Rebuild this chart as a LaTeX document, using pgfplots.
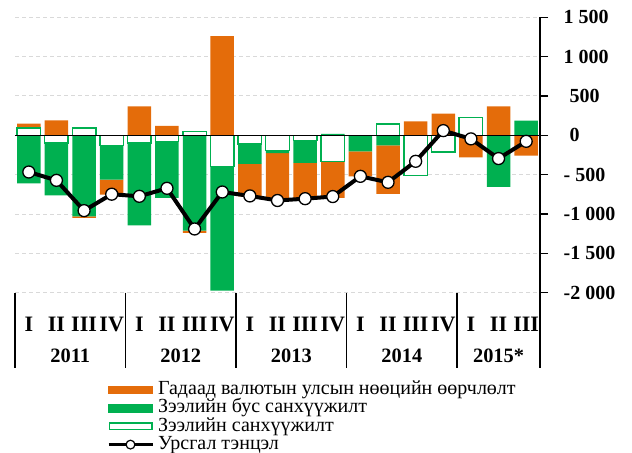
\documentclass[border=0pt]{standalone}
\usepackage{fontspec}
\setmainfont{Liberation Serif}
\usepackage{pgfplots}
\usepackage{pgfplotstable}
\pgfplotsset{compat=1.18}

\definecolor{orangeC}{RGB}{228,108,10}
\definecolor{greenC}{RGB}{0,176,80}
\definecolor{gridC}{RGB}{217,217,217}

% positive (p) and negative (n) parts, stacked separately as in the original
% H = Зээлийн санхүүжилт, G = Зээлийн бус санхүүжилт, O = Гадаад валютын улсын нөөцийн өөрчлөлт
\pgfplotstableread{
x  Hp   Gp   Op    Hn    Gn     On
0  93   0    55    0     -610   0
1  0    0    190   -97   -665   0
2  93   0    0     0     -1029  -21
3  0    0    0     -127  -436   -191
4  0    0    369   -97   -1047  0
5  0    0    119   -80   -716   0
6  51   0    0     0     -1211  -30
7  0    0    1262  -394  -1580  0
8  0    0    0     -110  -254   -411
9  0    0    0     -195  -30    -595
10 0    0    0     -67   -284   -448
11 0    20   0     -330  0      -465
12 0    0    0     0     -203   -318
13 145  0    0     0     -127   -618
14 0    0    178   -512  0      0
15 0    0    276   -211  0      0
16 229  0    0     0     0      -280
17 0    0    369   0     -656   0
18 0    187  0     0     0      -258
}\bars

% Урсгал тэнцэл
\pgfplotstableread{
x  L
0  -466
1  -572
2  -957
3  -748
4  -775
5  -673
6  -1190
7  -720
8  -770
9  -828
10 -805
11 -778
12 -521
13 -597
14 -330
15 60
16 -45
17 -295
18 -76
}\balance

\pgfplotsset{
  base/.style={
    width=262.5pt, height=137.7pt, scale only axis,
    at={(0,0)}, anchor=south west,
    xmin=-0.5, xmax=18.5, ymin=-2000, ymax=1500,
    clip=false,
  },
  hollow/.style={fill=white, draw=greenC, line width=0.7pt},
}
\tikzset{yearlabel/.style={font=\bfseries\fontsize{10.2}{10.2}\selectfont, yshift=-31.7pt}}

\begin{document}
\begin{tikzpicture}
\useasboundingbox (-7.5pt,-79.65pt) rectangle (308.5pt,146.35pt);

% grid, axis and positive parts
\begin{axis}[base,
    ybar stacked, bar width=0.85,
    axis y line*=right, axis x line*=bottom,
    x axis line style={draw=none},
    y axis line style={line width=0.65pt},
    ytick={-2000,-1500,...,1500},
    yticklabels={-2~000,-1~500,-1~000,-~500,\hspace{3pt}0,\hspace{3pt}500,1~000,1~500},
    tick align=outside, major tick length=4pt,
    ytick style={black, line width=0.65pt},
    yticklabel style={font=\bfseries\fontsize{10}{10}\selectfont, anchor=west, xshift=4.3pt},
    xtick={0,...,18},
    xticklabels={I,II,III,IV,I,II,III,IV,I,II,III,IV,I,II,III,IV,I,II,III},
    xtick style={draw=none},
    xticklabel style={font=\bfseries\fontsize{11}{11}\selectfont, anchor=center, yshift=-11.7pt},
    ymajorgrids,
    grid style={gridC, dash pattern=on 2pt off 1.5pt, line width=0.5pt},
]
\addplot[hollow] table[x=x, y=Hp] {\bars};
\addplot[fill=greenC, draw=none] table[x=x, y=Gp] {\bars};
\addplot[fill=orangeC, draw=none] table[x=x, y=Op] {\bars};
\end{axis}

% negative parts
\begin{axis}[base, hide axis, ybar stacked, bar width=0.85]
\addplot[hollow] table[x=x, y=Hn] {\bars};
\addplot[fill=greenC, draw=none] table[x=x, y=Gn] {\bars};
\addplot[fill=orangeC, draw=none] table[x=x, y=On] {\bars};
\end{axis}

% zero line, balance, separators, years, legend
\begin{axis}[base, hide axis,
    legend cell align=left,
    legend style={at={(axis description cs:0,0)}, anchor=north west,
      xshift=45.8pt, yshift=-43.9pt, draw=none, fill=none,
      inner sep=0pt, row sep=0pt, column sep=2pt,
      font=\fontsize{10}{10}\selectfont,
      nodes={inner sep=0pt, text height=6.9pt, text depth=2.2pt}},
]
\addlegendimage{legend image code/.code={\fill[orangeC] (0pt,-1.9pt) rectangle (22pt,1.9pt);}}
\addlegendentry{Гадаад валютын улсын нөөцийн өөрчлөлт}
\addlegendimage{legend image code/.code={\fill[greenC] (0pt,-1.9pt) rectangle (22pt,1.9pt);}}
\addlegendentry{Зээлийн бус санхүүжилт}
\addlegendimage{legend image code/.code={\draw[greenC, fill=white, line width=0.6pt] (0.3pt,-1.7pt) rectangle (21.7pt,1.7pt);}}
\addlegendentry{Зээлийн санхүүжилт}

\addplot[black, line width=0.8pt, forget plot] coordinates {(-0.5,0) (18.5,0)};
\addplot[black, line width=2pt, mark=*, mark size=3pt,
    mark options={fill=white, draw=black, line width=0.65pt},
    legend image code/.code={
      \draw[black, line width=1.5pt] (0pt,0pt) -- (22pt,0pt);
      \draw[black, fill=white, line width=0.6pt] (11pt,0pt) circle (2.2pt);}]
  table[x=x, y=L] {\balance};
\addlegendentry{Урсгал тэнцэл}

\pgfplotsinvokeforeach{-0.5,3.5,7.5,11.5,15.5,18.5}{
  \draw[black, line width=0.65pt] (axis cs:#1,-2000) -- ++(0pt,-37.5pt);
}
\node[yearlabel] at (axis cs:1.5,-2000) {2011};
\node[yearlabel] at (axis cs:5.5,-2000) {2012};
\node[yearlabel] at (axis cs:9.5,-2000) {2013};
\node[yearlabel] at (axis cs:13.5,-2000) {2014};
\node[yearlabel] at (axis cs:17,-2000) {2015*};
\end{axis}
\end{tikzpicture}
\end{document}
